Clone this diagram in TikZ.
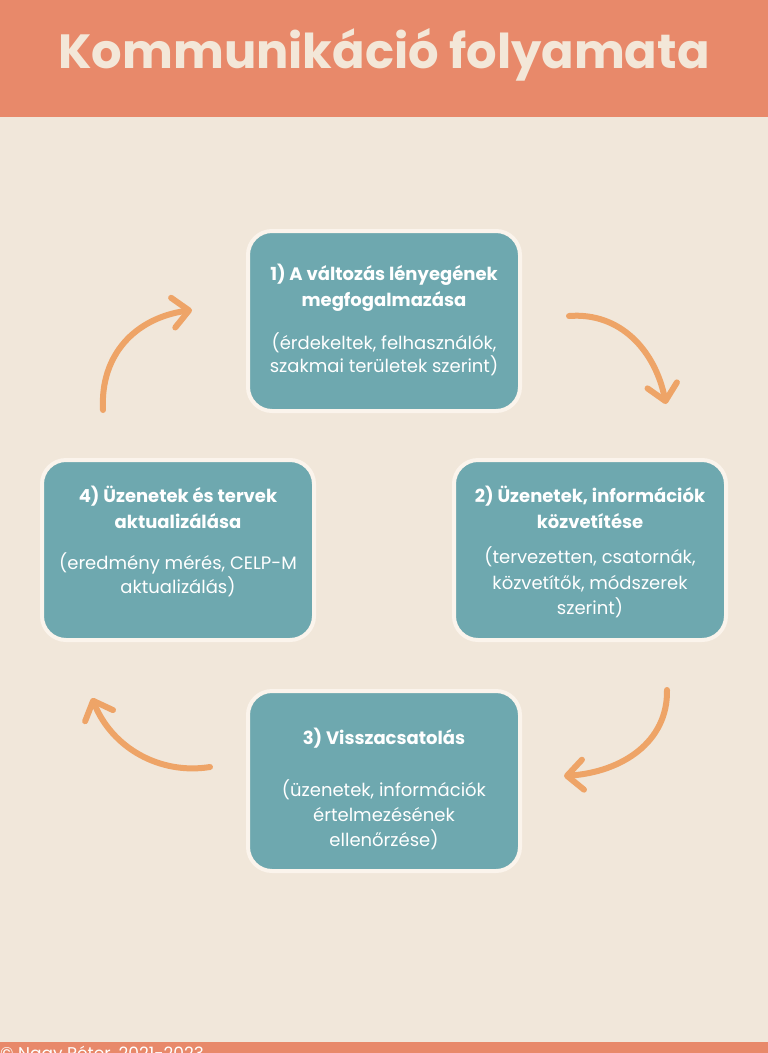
\documentclass[tikz,border=0pt]{standalone}
\usepackage{fontspec}
\setmainfont{Poppins}
\usetikzlibrary{arrows.meta}
\definecolor{hdr}{HTML}{E8896A}
\definecolor{bg}{HTML}{F1E7DA}
\definecolor{teal}{HTML}{6EA8AF}
\definecolor{rim}{HTML}{FBF4EC}
\definecolor{arr}{HTML}{EEA467}
\definecolor{ttl}{HTML}{F3E7D8}
\tikzset{
  stepbox/.style={draw=rim, line width=4pt, fill=teal, rounded corners=24pt, minimum width=272pt, minimum height=180pt, inner sep=0pt},
  headline/.style={text=white, font=\fontsize{18}{21}\selectfont\bfseries, inner sep=0pt, anchor=base},
  subline/.style={text=white, font=\fontsize{18}{21}\selectfont, inner sep=0pt, anchor=base},
  cyclearrow/.style={draw=arr, line width=6pt, line cap=round, -{Straight Barb[length=16pt, width=30pt, line width=6pt, round]}},
}
\begin{document}
\begin{tikzpicture}[x=1pt,y=-1pt]
\useasboundingbox (0,0) rectangle (768,1053);
\clip (0,0) rectangle (768,1053);
\fill[bg] (0,0) rectangle (768,1053);
\fill[hdr] (0,0) rectangle (768,117);
\fill[hdr] (0,1042) rectangle (768,1053);
\node[text=ttl, font=\fontsize{48}{54}\selectfont\bfseries, anchor=base, inner sep=0pt] (title) at (384,68) {Kommunikáció folyamata};
\node[text=white, font=\fontsize{17}{20}\selectfont, anchor=base west, inner sep=0pt] (footer) at (0,1059) {© Nagy Péter, 2021-2023};

\node[stepbox] (b1) at (384,321) {};
\node[stepbox] (b2) at (590,550) {};
\node[stepbox] (b4) at (178,550) {};
\node[stepbox] (b3) at (384,781) {};

\node[headline] (t1a) at (384,280) {1) A változás lényegének};
\node[headline] (t1b) at (384,306) {megfogalmazása};
\node[subline] (t1c) at (384,349) {(érdekeltek, felhasználók,};
\node[subline] (t1d) at (384,372) {szakmai területek szerint)};

\node[headline] (t2a) at (590,502) {2) Üzenetek, információk};
\node[headline] (t2b) at (590,528) {közvetítése};
\node[subline] (t2c) at (590,563) {(tervezetten, csatornák,};
\node[subline] (t2d) at (590,589) {közvetítők, módszerek};
\node[subline] (t2e) at (590,614) {szerint)};

\node[headline] (t4a) at (178,502) {4) Üzenetek és tervek};
\node[headline] (t4b) at (178,528) {aktualizálása};
\node[subline] (t4c) at (178,569) {(eredmény mérés, CELP-M};
\node[subline] (t4d) at (178,593) {aktualizálás)};

\node[headline] (t3a) at (384,744) {3) Visszacsatolás};
\node[subline] (t3c) at (384,796) {(üzenetek, információk};
\node[subline] (t3d) at (384,821) {értelmezésének};
\node[subline] (t3e) at (384,846) {ellenőrzése)};

\coordinate (a1s) at (103,410); \coordinate (a1e) at (192,310);
\coordinate (a2s) at (569,316); \coordinate (a2e) at (666,404);
\coordinate (a3s) at (667,690); \coordinate (a3e) at (564,776);
\coordinate (a4s) at (210,767); \coordinate (a4e) at (92,698);
\draw[cyclearrow] (a1s) .. controls (100,355) and (135,318) .. (a1e);
\draw[cyclearrow] (a2s) .. controls (620,312) and (655,350) .. (a2e);
\draw[cyclearrow] (a3s) .. controls (668,742) and (622,772) .. (a3e);
\draw[cyclearrow] (a4s) .. controls (160,775) and (112,748) .. (a4e);
\end{tikzpicture}
\end{document}
